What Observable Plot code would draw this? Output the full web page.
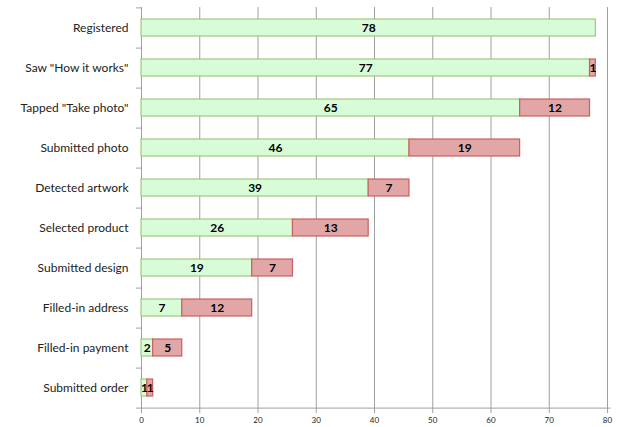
<!DOCTYPE html>
<html>
<head>
<meta charset="utf-8">
<script src="https://cdn.jsdelivr.net/npm/d3@7"></script>
<script src="https://cdn.jsdelivr.net/npm/@observablehq/plot@0.6"></script>
<style>
  html, body { margin: 0; padding: 0; background: #fff; }
  #chart svg { display: block; }
</style>
</head>
<body>
<div id="chart"></div>
<script>
const stages = ["Registered", "Saw \"How it works\"", "Tapped \"Take photo\"", "Submitted photo", "Detected artwork", "Selected product", "Submitted design", "Filled-in address", "Filled-in payment", "Submitted order"];
const retained = [78, 77, 65, 46, 39, 26, 19, 7, 2, 1];
const dropped = [0, 1, 12, 19, 7, 13, 7, 12, 5, 1];
const xTicks = [0, 10, 20, 30, 40, 50, 60, 70, 80];

const kinds = ["retained", "dropped"];
const rows = [];
stages.forEach((s, i) => {
  rows.push({stage: s, kind: "retained", value: retained[i]});
  rows.push({stage: s, kind: "dropped", value: dropped[i]});
});
const data = rows.filter(d => d.value > 0);

const W = 618, H = 427, mT = 7, mB = 18, mL = 141, mR = 11;
const step = (H - mT - mB) / stages.length;
const font = "Lato, 'Open Sans', sans-serif";

const chart = Plot.plot({
  width: W,
  height: H,
  marginTop: mT,
  marginBottom: mB,
  marginLeft: mL,
  marginRight: mR,
  style: {fontFamily: font, background: "#fff"},
  x: {domain: [0, 80], ticks: xTicks, label: null},
  y: {domain: stages, paddingInner: 0.57, paddingOuter: 0.285, label: null},
  color: {domain: kinds, range: ["#d8fcd8", "#e2a6a6"]},
  marks: [
    Plot.gridX(xTicks, {stroke: "#a0a0a0", strokeOpacity: 1, strokeWidth: 1}),
    Plot.axisX(xTicks, {tickSize: 4, tickPadding: 4, fontSize: 8, stroke: "#a0a0a0", fill: "#222", tickFormat: d => d, label: null}),
    Plot.axisY({tickSize: 0, tickPadding: 13, fontSize: 12, fill: "#222", label: null}),
    Plot.ruleY(stages, {y: d => d, x1: -0.85, x2: 0, dy: step / 2, stroke: "#a0a0a0"}),
    Plot.ruleY([stages[0]], {y: d => d, x1: -0.85, x2: 0, dy: -step / 2, stroke: "#a0a0a0"}),
    Plot.ruleX([0], {stroke: "#a0a0a0"}),
    Plot.ruleY([stages[stages.length - 1]], {y: d => d, x1: 0, x2: 80.6, dy: step / 2, stroke: "#a0a0a0"}),
    Plot.barX(data, Plot.stackX({
      x: "value", y: "stage", z: "kind", order: kinds,
      fill: "kind",
      stroke: d => d.kind === "retained" ? "#a8c47c" : "#c9605f",
      strokeWidth: 1.2,
      style: {filter: "drop-shadow(1px 1px 1px rgba(0,0,0,0.25))"}
    })),
    Plot.text(data, Plot.stackX({
      x: "value", y: "stage", z: "kind", order: kinds,
      text: d => String(d.value),
      fontWeight: "bold", fontSize: 12, fill: "#000"
    }))
  ]
});
document.getElementById("chart").appendChild(chart);
</script>
</body>
</html>
